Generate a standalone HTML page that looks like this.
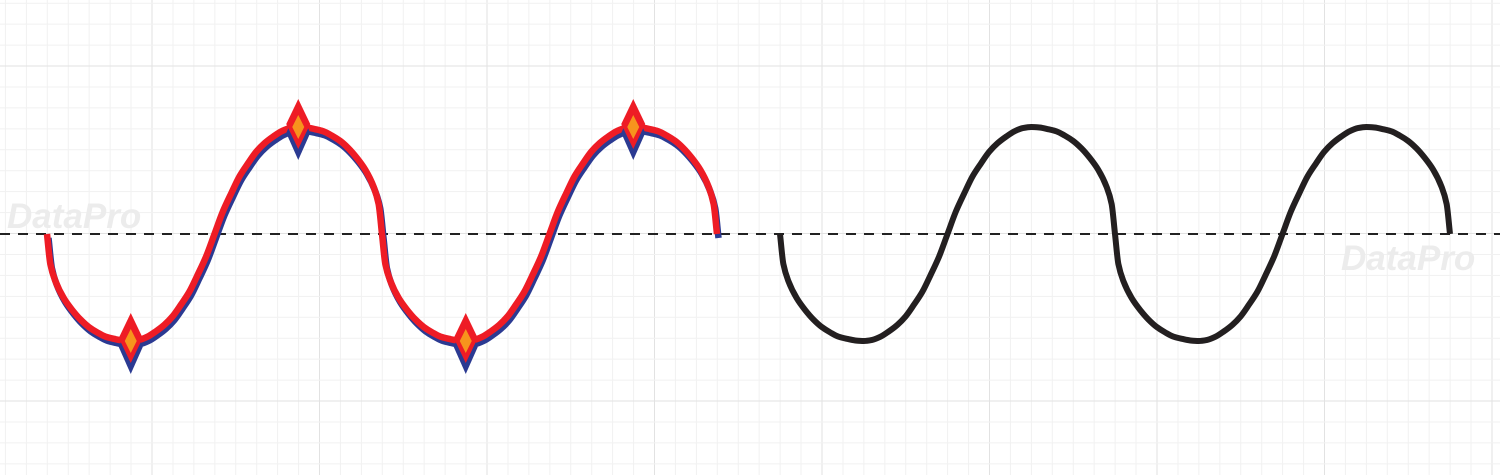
<!DOCTYPE html>
<html><head><meta charset="utf-8"><style>
html,body{margin:0;padding:0;background:#fff;}
svg{display:block;font-family:"Liberation Sans",sans-serif;}
</style></head><body>
<svg id="chart" width="1500" height="475" viewBox="0 0 1500 475" xmlns="http://www.w3.org/2000/svg">
<g id="grid"></g>
<text x="7" y="228" font-size="35" font-weight="bold" font-style="italic" fill="#ececec">DataPro</text>
<text x="1341" y="270" font-size="35" font-weight="bold" font-style="italic" fill="#ececec">DataPro</text>
<line x1="0" y1="234" x2="1500" y2="234" stroke="#222" stroke-width="2" stroke-dasharray="10 8"/>
<g id="series"></g>
</svg>
<script>
// samples (time in half-periods, value in amplitude units)
const tVals = [0,.02,.05,.1,.15,.2,.25,.3,.35,.4,.45,.5,.55,.6,.65,.7,.75,.8,.85,.9,.95,
  1,1.05,1.1,1.15,1.2,1.25,1.3,1.35,1.4,1.45,1.5,1.55,1.6,1.65,1.7,1.75,1.8,1.85,1.9,1.95,1.98,
  2,2.02,2.05,2.1,2.15,2.2,2.25,2.3,2.35,2.4,2.45,2.5,2.55,2.6,2.65,2.7,2.75,2.8,2.85,2.9,2.95,
  3,3.05,3.1,3.15,3.2,3.25,3.3,3.35,3.4,3.45,3.5,3.55,3.6,3.65,3.7,3.75,3.8,3.85,3.9,3.95,3.98,4];
const leftValues = [0,-.28,-.44,-.6,-.71,-.8,-.87,-.92,-.96,-.98,-.995,-1,-.99,-.96,-.91,-.85,-.77,-.66,-.54,-.38,-.21,
  0,.21,.38,.54,.66,.77,.85,.91,.96,.99,1,.995,.98,.96,.92,.87,.8,.71,.6,.44,.28,
  0,-.28,-.44,-.6,-.71,-.8,-.87,-.92,-.96,-.98,-.995,-1,-.99,-.96,-.91,-.85,-.77,-.66,-.54,-.38,-.21,
  0,.21,.38,.54,.66,.77,.85,.91,.96,.99,1,.995,.98,.96,.92,.87,.8,.71,.6,.44,.28,0];
const rightValues = [0,-.28,-.44,-.6,-.71,-.8,-.87,-.92,-.96,-.98,-.995,-1,-.99,-.96,-.91,-.85,-.77,-.66,-.54,-.38,-.21,
  0,.21,.38,.54,.66,.77,.85,.91,.96,.99,1,.995,.98,.96,.92,.87,.8,.71,.6,.44,.28,
  0,-.28,-.44,-.6,-.71,-.8,-.87,-.92,-.96,-.98,-.995,-1,-.99,-.96,-.91,-.85,-.77,-.66,-.54,-.38,-.21,
  0,.21,.38,.54,.66,.77,.85,.91,.96,.99,1,.995,.98,.96,.92,.87,.8,.71,.6,.44,.28,0];
const markerT = [0.5,1.5,2.5,3.5];
const markerV = [-1,1,-1,1];

const NS="http://www.w3.org/2000/svg";
const grid=document.getElementById('grid');
for(let i=-8;i<80;i++){
  const x=152+i*167.5/8; if(x<0||x>1500) continue;
  const l=document.createElementNS(NS,'line');
  l.setAttribute('x1',x);l.setAttribute('x2',x);l.setAttribute('y1',0);l.setAttribute('y2',475);
  l.setAttribute('stroke',i%8===0?'#e2e2e2':'#f1f1f1');l.setAttribute('stroke-width',1);
  
  
  grid.appendChild(l);
}
for(let i=-24;i<24;i++){
  const y=233.5+i*167.5/8; if(y<0||y>475) continue;
  const l=document.createElementNS(NS,'line');
  l.setAttribute('x1',0);l.setAttribute('x2',1500);l.setAttribute('y1',y);l.setAttribute('y2',y);
  l.setAttribute('stroke',i%8===0?'#e2e2e2':'#f1f1f1');l.setAttribute('stroke-width',1);
  
  
  grid.appendChild(l);
}
const yScale=v=>234-v*107;
const xScale=(x0,t)=>x0+t*167.5;
// monotone cubic (Fritsch-Carlson) path
function pathFor(x0,vals,dx,dy){
  const p=tVals.map((t,i)=>[xScale(x0,t)+dx,yScale(vals[i])+dy]);
  const n=p.length, s=[], m=[];
  for(let i=0;i<n-1;i++) s.push((p[i+1][1]-p[i][1])/(p[i+1][0]-p[i][0]));
  for(let i=0;i<n;i++){
    if(i===0) m.push(s[0]); else if(i===n-1) m.push(s[n-2]);
    else if(s[i-1]*s[i]<=0) m.push(0);
    else { const h0=p[i][0]-p[i-1][0],h1=p[i+1][0]-p[i][0];
      m.push(3*(h0+h1)/((2*h1+h0)/s[i-1]+(h1+2*h0)/s[i])); }
  }
  let d='M'+p[0][0]+','+p[0][1];
  for(let i=0;i<n-1;i++){
    const h=(p[i+1][0]-p[i][0])/3;
    d+=` C${p[i][0]+h},${p[i][1]+m[i]*h} ${p[i+1][0]-h},${p[i+1][1]-m[i+1]*h} ${p[i+1][0]},${p[i+1][1]}`;
  }
  return d;
}
const layer=document.getElementById('series');
function addPath(d,color,w,name){
  const e=document.createElementNS(NS,'path');
  e.setAttribute('d',d);e.setAttribute('fill','none');e.setAttribute('stroke',color);e.setAttribute('stroke-width',w);
  e.setAttribute('stroke-linejoin','round');
  
  
  layer.appendChild(e);
}
addPath(pathFor(47,leftValues,1.5,4),'#2b3a92',6.5,'left-series-shadow');
addPath(pathFor(47,leftValues,0,0),'#ee1c25',6.5,'left-series-line');
addPath(pathFor(780,rightValues,0,0),'#231f20',6,'right-series-line');
function diamond(cx,cy,hw,hh,fill,name){
  const e=document.createElementNS(NS,'path');
  e.setAttribute('d',`M${cx},${cy-hh} L${cx+hw},${cy} L${cx},${cy+hh} L${cx-hw},${cy} Z`);
  e.setAttribute('fill',fill);
  
  
  layer.appendChild(e);
}
markerT.forEach((t,i)=>{
  const cx=xScale(47,t), cy=yScale(markerV[i]);
  diamond(cx,cy+6,12,27,'#2b3a92','marker-shadow');
  diamond(cx,cy-3,12,25,'#ee1c25','marker-point');
  diamond(cx,cy,6,12,'#f7941d','marker-inner');
});
</script>
</body></html>
